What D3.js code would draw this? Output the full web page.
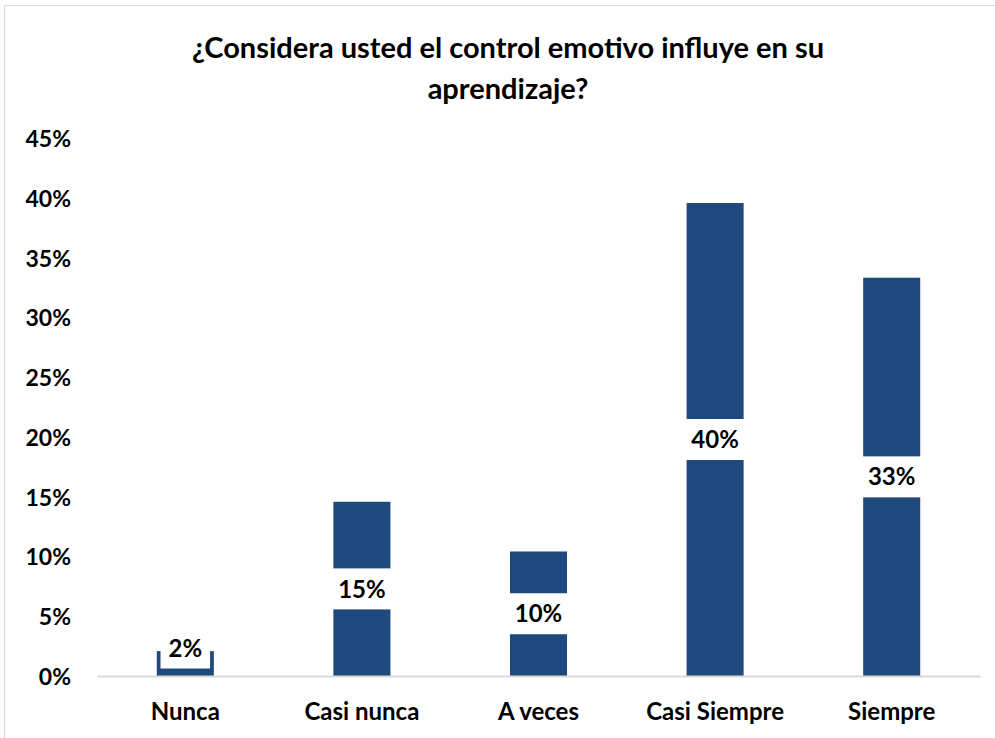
<!DOCTYPE html>
<html>
<head>
<meta charset="utf-8">
<script src="https://cdn.jsdelivr.net/npm/d3@7"></script>
<style>
  html, body { margin: 0; padding: 0; background: #fff; }
  svg { display: block; }
  text { font-family: Lato, "Open Sans", sans-serif; font-weight: 700; fill: #000; }
</style>
</head>
<body>
<svg id="chart" width="995" height="738"></svg>
<script>
const titleLines = ["¿Considera usted el control emotivo influye en su", "aprendizaje?"];
const categories = ["Nunca", "Casi nunca", "A veces", "Casi Siempre", "Siempre"];
const values = [0.0208, 0.1458, 0.1042, 0.3958, 0.3333];
const labels = ["2%", "15%", "10%", "40%", "33%"];
const yTicks = [0, 0.05, 0.10, 0.15, 0.20, 0.25, 0.30, 0.35, 0.40, 0.45];

const svg = d3.select("#chart");
const plot = { left: 97, right: 980, top: 138.25, bottom: 676 };
const FONT = "Lato, 'Open Sans', sans-serif";

// outer frame
svg.append("rect")
  .attr("x", 4.5).attr("y", 5.5)
  .attr("width", 1100).attr("height", 900)
  .attr("fill", "#fff").attr("stroke", "#D9D9D9").attr("stroke-width", 1);

// title
const title = svg.append("g");
titleLines.forEach((t, i) => {
  title.append("text")
    .attr("x", 508).attr("y", 58 + i * 41)
    .attr("text-anchor", "middle")
    .style("font-size", "29px")
    .text(t);
});

const x = d3.scaleBand()
  .domain(categories)
  .range([plot.left, plot.right])
  .paddingInner(0.677)
  .paddingOuter(0.3385);

const y = d3.scaleLinear()
  .domain([0, 0.45])
  .range([plot.bottom, plot.top]);

// y axis labels
const yAxis = d3.axisLeft(y)
  .tickValues(yTicks)
  .tickFormat(d3.format(".0%"))
  .tickSize(0)
  .tickPadding(0);
const yg = svg.append("g")
  .attr("transform", `translate(71,0)`)
  .call(yAxis);
yg.select(".domain").remove();
yg.selectAll("text")
  .style("font-size", "23px")
  .style("font-family", FONT)
  .attr("fill", "#000")
  .attr("dy", "0.36em");

// bars
const color = "#1F497D";
svg.append("g").selectAll("rect")
  .data(values)
  .join("rect")
  .attr("x", (d, i) => x(categories[i]))
  .attr("width", x.bandwidth())
  .attr("y", d => y(d))
  .attr("height", d => y(0) - y(d))
  .attr("fill", color);

// x axis
const xAxis = d3.axisBottom(x).tickSize(0).tickPadding(0);
const xg = svg.append("g")
  .attr("transform", `translate(0,${plot.bottom})`)
  .call(xAxis);
xg.select(".domain")
  .attr("stroke", "#D9D9D9")
  .attr("stroke-width", 2);
xg.selectAll("text")
  .style("font-size", "24px")
  .style("font-family", FONT)
  .attr("fill", "#000")
  .attr("y", 44)
  .attr("dy", "0");

// data labels with white boxes
const lg = svg.append("g");
values.forEach((v, i) => {
  const cx = x(categories[i]) + x.bandwidth() / 2;
  const mid = (y(v) + y(0)) / 2;
  const cy = Math.min(mid, y(0) - 28);
  const g = lg.append("g");
  const t = g.append("text")
    .attr("x", cx).attr("y", cy)
    .attr("text-anchor", "middle")
    .attr("dy", "0.36em")
    .style("font-size", "24px")
    .text(labels[i]);
  const w = t.node().getComputedTextLength() + 16;
  g.insert("rect", "text")
    .attr("x", cx - w / 2).attr("y", cy - 20.5)
    .attr("width", w).attr("height", 41)
    .attr("fill", "#fff");
});
</script>
</body>
</html>
